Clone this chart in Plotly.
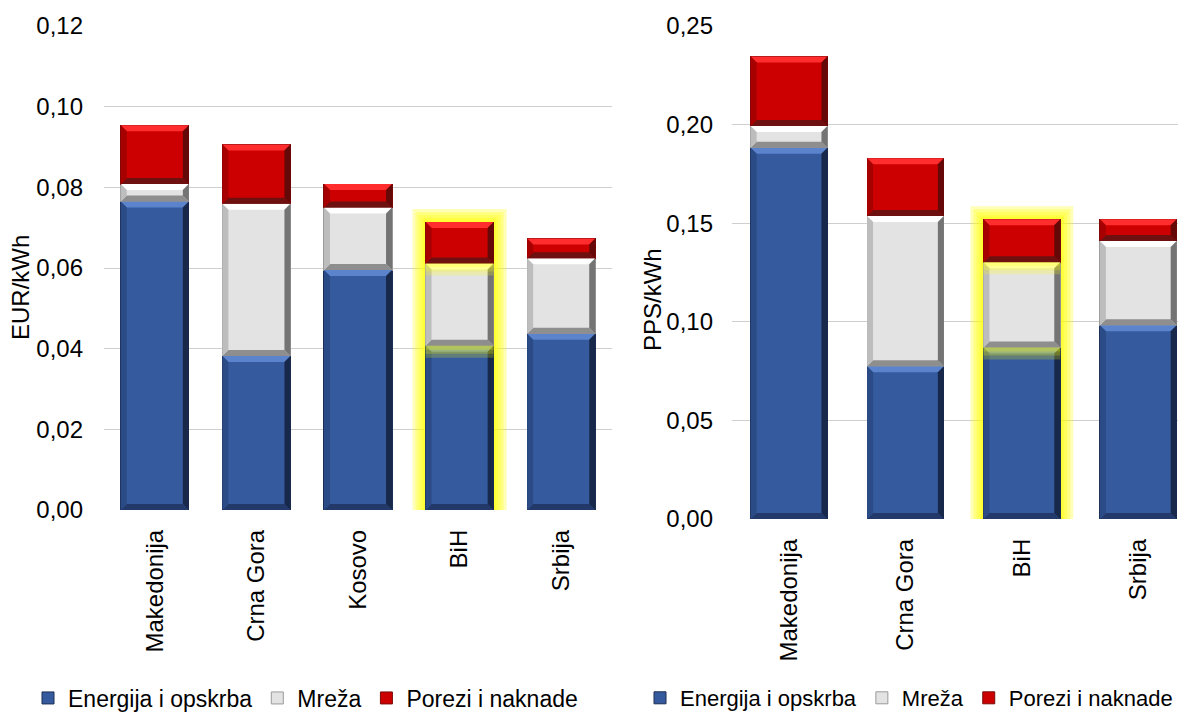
import plotly.graph_objs as go

# EUR/kWh panel
categories_eur = ['Makedonija', 'Crna Gora', 'Kosovo', 'BiH', 'Srbija']
energija_eur = [0.0765, 0.0382, 0.0595, 0.0407, 0.0437]
mreza_eur = [0.0043, 0.0377, 0.0155, 0.0204, 0.0187]
porezi_eur = [0.0146, 0.0147, 0.0058, 0.0103, 0.0049]

# PPS/kWh panel
categories_pps = ['Makedonija', 'Crna Gora', 'BiH', 'Srbija']
energija_pps = [0.1883, 0.0774, 0.0870, 0.0983]
mreza_pps = [0.0110, 0.0763, 0.0432, 0.0427]
porezi_pps = [0.0352, 0.0292, 0.0218, 0.0110]

series_names = ['Energija i opskrba', 'Mreža', 'Porezi i naknade']
highlight = 'BiH'

W, H = 1186, 713
OFF = 8  # the page body puts the plot 8px in from the top-left corner
FONT = 'Liberation Sans, Arial, sans-serif'

# face, top bevel, bottom bevel, left side, right side
styles = [
    dict(face='#355a9e', top='#5b84cc', bottom='#22396a', left='#2b4b86', right='#18284a', line='#1c2f55'),
    dict(face='#e3e3e3', top='#ffffff', bottom='#8e8e8e', left='#bdbdbd', right='#747474', line='#9a9a9a'),
    dict(face='#cc0000', top='#ff2d2d', bottom='#6e1010', left='#a60000', right='#650808', line='#7a0a0a'),
]

# pixel geometry of the two plot areas (screen pixels)
left_px = dict(x0=104, x1=612, y0=510, y1=26)
right_px = dict(x0=732, x1=1186, y0=519, y1=26)
left_xr, left_yr = [-0.5, 4.5], [0, 0.12]
right_xr, right_yr = [-0.49, 3.41], [0, 0.25]
bw_left, bw_right = 0.67, 0.66


def fx(x):
    return (x - OFF) / W


def fy(y):
    return 1 - (y - OFF) / H


def bevel_shapes(values, xref, yref, px, xr, yr, bw, hl_index):
    shapes = []
    pxc = (px['x1'] - px['x0']) / (xr[1] - xr[0])
    pxu = (px['y0'] - px['y1']) / (yr[1] - yr[0])
    n = len(values[0])
    for i in range(n):
        base = 0.0
        x0, x1 = i - bw / 2, i + bw / 2
        tops = []
        for s, vals in enumerate(values):
            top = base + vals[i]
            st = styles[s]
            b = min(6.0, (top - base) * pxu / 2.2)
            bx, by = b / pxc, b / pxu
            polys = [
                ('top', [(x0, top), (x1, top), (x1 - bx, top - by), (x0 + bx, top - by)]),
                ('bottom', [(x0, base), (x1, base), (x1 - bx, base + by), (x0 + bx, base + by)]),
                ('left', [(x0, base), (x0, top), (x0 + bx, top - by), (x0 + bx, base + by)]),
                ('right', [(x1, base), (x1, top), (x1 - bx, top - by), (x1 - bx, base + by)]),
            ]
            for key, pts in polys:
                path = 'M' + ' L'.join('%f,%f' % p for p in pts) + ' Z'
                shapes.append(dict(type='path', path=path, xref=xref, yref=yref,
                                   fillcolor=st[key], line=dict(width=0), layer='above'))
            tops.append(top)
            base = top
        if i == hl_index:
            # outer glow behind the highlighted bar
            for e in [13, 10, 7, 4, 2]:
                shapes.append(dict(type='rect', xref=xref, yref=yref,
                                   x0=x0 - e / pxc, x1=x1 + e / pxc, y0=0, y1=tops[-1] + e / pxu,
                                   fillcolor='#ffff00', opacity=0.28, line=dict(width=0),
                                   layer='between'))
            # glow of upper segments bleeding onto the lower ones
            for t in tops[:-1]:
                for h in [12, 8, 4]:
                    shapes.append(dict(type='rect', xref=xref, yref=yref,
                                       x0=x0, x1=x1, y0=t - h / pxu, y1=t,
                                       fillcolor='#ffff00', opacity=0.22, line=dict(width=0),
                                       layer='above'))
    return shapes


fig = go.Figure()

xl = list(range(len(categories_eur)))
for s, vals in enumerate([energija_eur, mreza_eur, porezi_eur]):
    fig.add_trace(go.Bar(
        x=xl, y=vals, name=series_names[s], width=bw_left,
        marker=dict(color=styles[s]['face'], line=dict(color=styles[s]['line'], width=1)),
        xaxis='x', yaxis='y', legend='legend', hoverinfo='name+y',
    ))

xr_ = list(range(len(categories_pps)))
for s, vals in enumerate([energija_pps, mreza_pps, porezi_pps]):
    fig.add_trace(go.Bar(
        x=xr_, y=vals, name=series_names[s], width=bw_right,
        marker=dict(color=styles[s]['face'], line=dict(color=styles[s]['line'], width=1)),
        xaxis='x2', yaxis='y2', legend='legend2', hoverinfo='name+y',
    ))

shapes = bevel_shapes([energija_eur, mreza_eur, porezi_eur], 'x', 'y', left_px,
                      left_xr, left_yr, bw_left, categories_eur.index(highlight))
shapes += bevel_shapes([energija_pps, mreza_pps, porezi_pps], 'x2', 'y2', right_px,
                       right_xr, right_yr, bw_right, categories_pps.index(highlight))

tickfont = dict(family=FONT, size=24, color='#000000')
legfont = dict(family=FONT, size=23, color='#000000')
legfont2 = dict(family=FONT, size=22, color='#000000')


def xdom(px):
    return [fx(px['x0']), fx(px['x1'])]


def ydom(px):
    return [fy(px['y0']), fy(px['y1'])]


layout = go.Layout(
    width=W, height=H,
    margin=dict(l=0, r=0, t=0, b=0, autoexpand=False),
    paper_bgcolor='white', plot_bgcolor='white',
    barmode='stack', bargap=0.33,
    separators=', ',
    font=dict(family=FONT, color='#000000'),
    xaxis=dict(domain=xdom(left_px), range=left_xr, anchor='y', automargin=False,
               tickmode='array', tickvals=xl, ticktext=categories_eur,
               tickangle=-90, tickfont=tickfont, showgrid=False, zeroline=False,
               showline=False, ticks='', ticklabelstandoff=14),
    yaxis=dict(domain=ydom(left_px), range=left_yr, anchor='x', dtick=0.02, automargin=False,
               tickformat='.2f', tickfont=tickfont, gridcolor='#cfcfcf', gridwidth=1,
               zeroline=False, showline=False, ticks='', ticklabelstandoff=20),
    xaxis2=dict(domain=xdom(right_px), range=right_xr, anchor='y2', automargin=False,
                tickmode='array', tickvals=xr_, ticktext=categories_pps,
                tickangle=-90, tickfont=tickfont, showgrid=False, zeroline=False,
                showline=False, ticks='', ticklabelstandoff=14),
    yaxis2=dict(domain=ydom(right_px), range=right_yr, anchor='x2', dtick=0.05, automargin=False,
                tickformat='.2f', tickfont=tickfont, gridcolor='#cfcfcf', gridwidth=1,
                zeroline=False, showline=False, ticks='', ticklabelstandoff=18),
    legend=dict(orientation='h', x=fx(28), y=fy(698), xanchor='left', yanchor='middle',
                font=legfont, bgcolor='rgba(0,0,0,0)', traceorder='normal'),
    legend2=dict(orientation='h', x=fx(640), y=fy(698), xanchor='left', yanchor='middle',
                 font=legfont2, bgcolor='rgba(0,0,0,0)', traceorder='normal'),
    annotations=[
        dict(text='EUR/kWh', xref='paper', yref='paper', x=fx(20), y=fy(288),
             xanchor='center', yanchor='middle',
             textangle=-90, showarrow=False, font=dict(family=FONT, size=24, color='#000000')),
        dict(text='PPS/kWh', xref='paper', yref='paper', x=fx(652), y=fy(300),
             xanchor='center', yanchor='middle',
             textangle=-90, showarrow=False, font=dict(family=FONT, size=24, color='#000000')),
    ],
    shapes=shapes,
    showlegend=True,
)

fig = go.Figure(data=fig.data, layout=layout)
fig.write_html('out.html')
